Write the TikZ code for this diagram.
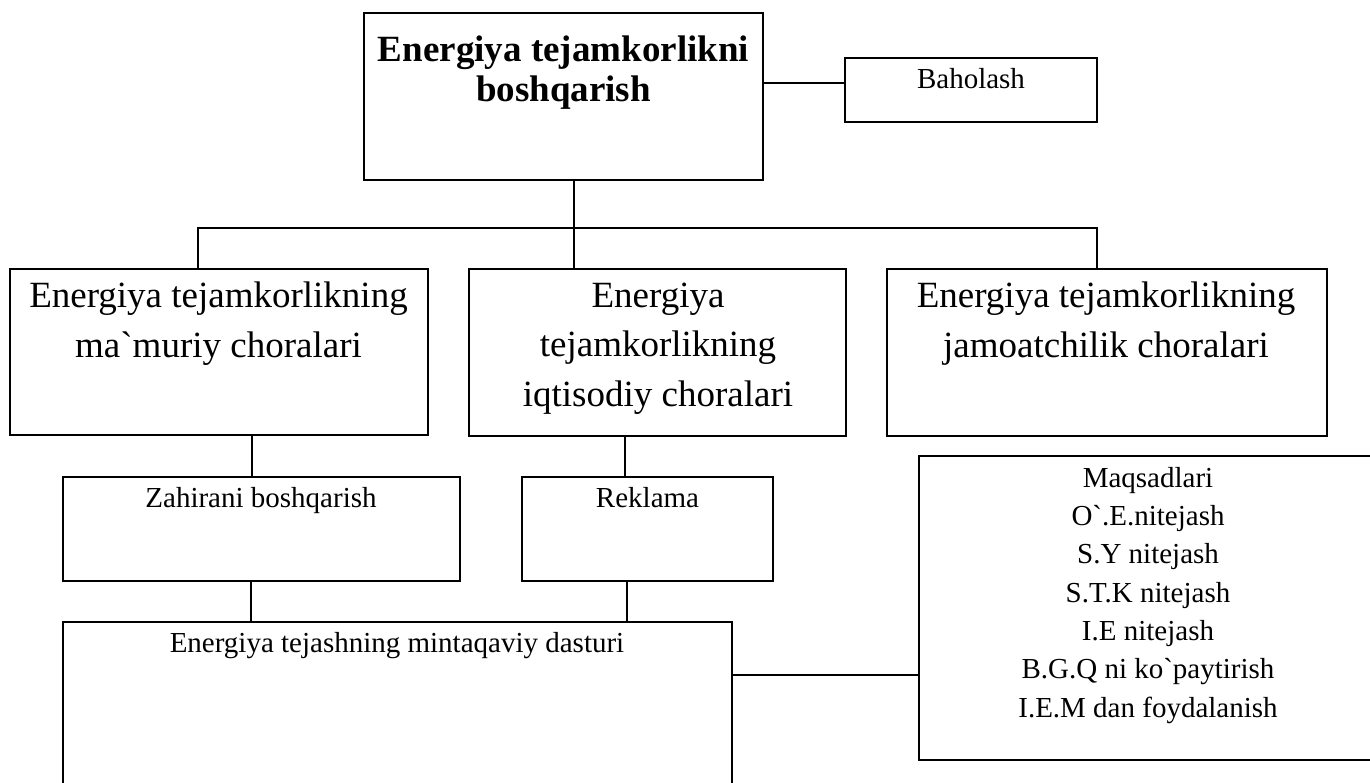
\documentclass[tikz,border=0pt]{standalone}
\usepackage{fontspec}
\setmainfont{Liberation Serif}

\begin{document}
\begin{tikzpicture}[x=1pt, y=-1pt,
  box/.style={draw=black, line width=1.3pt, solid, fill=white, inner sep=0pt, },
  small/.style={font=\fontsize{29}{38.3}\selectfont, align=center, inner sep=0pt, anchor=base, },
  mid/.style={font=\fontsize{37}{49.5}\selectfont, align=center, inner sep=0pt, anchor=base, },
  big/.style={font=\fontsize{37}{40}\selectfont\bfseries, align=center, inner sep=0pt, anchor=base, },
  link/.style={line width=1.3pt, }]
\useasboundingbox (0,0) rectangle (1370,783);
\clip (0,0) rectangle (1370,783);
% boxes
\node[box, minimum width=399, minimum height=167, ] (top) at (563.5,96.5) {};
\node[box, minimum width=252, minimum height=64, ] (baholash) at (971,90) {};
\node[box, minimum width=418, minimum height=166, ] (mamuriy) at (219,352) {};
\node[box, minimum width=377, minimum height=167, ] (iqtisod) at (657.5,352.5) {};
\node[box, minimum width=440, minimum height=167, ] (jamoat) at (1107,352.5) {};
\node[box, minimum width=397, minimum height=104, ] (zahira) at (261.5,529) {};
\node[box, minimum width=251, minimum height=104, ] (reklama) at (647.5,529) {};
\node[box, minimum width=669, minimum height=178, ] (dastur) at (397.5,711) {};
\node[box, minimum width=458, minimum height=304, ] (maqsad) at (1148,608) {};
% texts (placed at the baseline of their last line)
\node[big, ] (top-t) at (563.5,102) {Energiya tejamkorlikni\\boshqarish};
\node[small, ] (baholash-t) at (971,89) {Baholash};
\node[mid, ] (mamuriy-t) at (218.5,357) {Energiya tejamkorlikning\\ma\textasciigrave muriy choralari};
\node[mid, ] (iqtisod-t) at (658,406) {Energiya\\tejamkorlikning\\iqtisodiy choralari};
\node[mid, ] (jamoat-t) at (1106,357) {Energiya tejamkorlikning\\jamoatchilik choralari};
\node[small, ] (zahira-t) at (261,507) {Zahirani boshqarish};
\node[small, ] (reklama-t) at (647.5,507) {Reklama};
\node[small, ] (dastur-t) at (397,652) {Energiya tejashning mintaqaviy dasturi};
\node[small, ] (maqsad-t) at (1148,717) {Maqsadlari\\O\textasciigrave.E.nitejash\\S.Y nitejash\\S.T.K nitejash\\I.E nitejash\\B.G.Q ni ko\textasciigrave paytirish\\I.E.M dan foydalanish};
% branches
\coordinate (fork) at (574,228);
\coordinate (brL) at (198,228);
\coordinate (brR) at (1097,228);
\draw [link] ([yshift=13.5]top.east) -- ([yshift=13.5]top.east -| baholash.west);
\draw [link] (top.south -| fork) -- (fork |- iqtisod.north);
\draw [link] (brL |- mamuriy.north) -- (brL) -- (brR) -- (brR |- jamoat.north);
\draw [link] (mamuriy.south -| 252,0) -- (zahira.north -| 252,0);
\draw [link] (iqtisod.south -| 625,0) -- (reklama.north -| 625,0);
\draw [link] (zahira.south -| 251,0) -- (dastur.north -| 251,0);
\draw [link] (reklama.south -| 627,0) -- (dastur.north -| 627,0);
\draw [link] (dastur.east |- 0,675) -- (maqsad.west |- 0,675);
\end{tikzpicture}
\end{document}
